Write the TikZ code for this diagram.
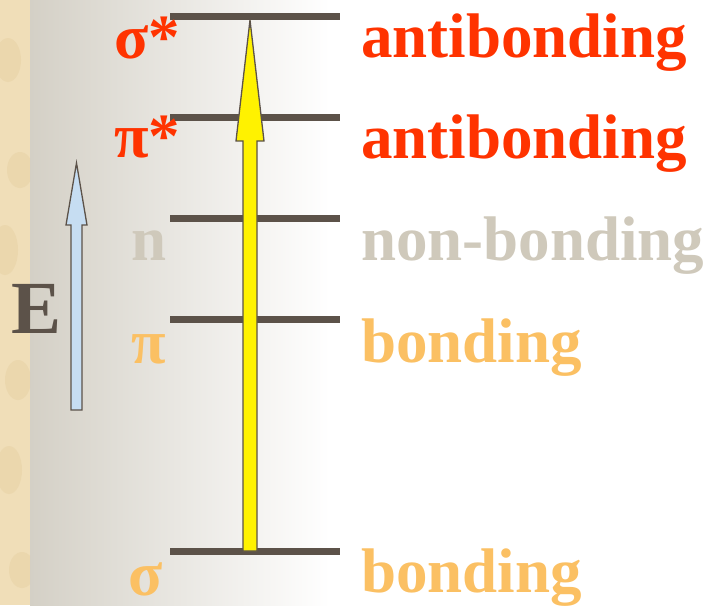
\documentclass[tikz,border=0pt]{standalone}
\usepackage{fontspec}
\setmainfont{Liberation Serif}
\definecolor{levelgray}{HTML}{5C5249}
\definecolor{antired}{HTML}{FF3300}
\definecolor{nonbgray}{HTML}{CFC9BB}
\definecolor{bondorange}{HTML}{FBC063}
\definecolor{parchment}{HTML}{F0DEB8}
\definecolor{parchdark}{HTML}{E0C896}
\definecolor{panelgray}{HTML}{D4D0C6}
\definecolor{arrowblue}{HTML}{C6DDF2}
\begin{document}
\begin{tikzpicture}[x=1pt,y=-1pt,line join=miter,
  level/.style={line width=7pt,draw=levelgray},
  lbl/.style={anchor=base west,inner sep=0pt,font=\fontsize{63}{63}\selectfont\bfseries},
  fatarrow/.style={draw=levelgray,line width=1.3pt}]
  \useasboundingbox (0,0) rectangle (714,605);
  % background
  \fill[white] (0,0) rectangle (714,605);
  \shade[left color=panelgray,right color=white] (30,0) rectangle (330,605);
  \fill[parchment] (0,0) rectangle (30,605);
  \begin{scope}
    \clip (0,0) rectangle (30,605);
    \foreach \yy/\xx/\rr in {60/8/22,170/20/18,250/5/25,380/18/20,470/9/24,570/22/18}
      \fill[parchdark,opacity=0.3] (\xx,\yy) ellipse (13 and \rr);
  \end{scope}
  % energy levels
  \coordinate (sigstarL) at (170,16.5);
  \coordinate (pistarL) at (170,117.5);
  \coordinate (nonbL) at (170,218);
  \coordinate (piL) at (170,319.5);
  \coordinate (sigL) at (170,551.5);
  \foreach \lv in {sigstarL,pistarL,nonbL,piL,sigL}
    \draw[level] (\lv) -- ++(170,0);
  % transition
  \draw[fatarrow,fill=yellow] (243,551) -- (243,141) -- (236,141) -- (250,20)
    -- (264,141) -- (257,141) -- (257,551) -- cycle;
  % energy axis
  \draw[fatarrow,fill=arrowblue] (71,410) -- (71,225) -- (66,225) -- (76.5,163)
    -- (87,225) -- (82,225) -- (82,410) -- cycle;
  \node[lbl,text=levelgray,font=\fontsize{75}{75}\selectfont\bfseries] (elabel) at (11,333) {E};
  % orbital names
  \node[lbl,text=antired] (sigstar) at (114,58) {σ*};
  \node[lbl,text=antired] (pistar) at (114,157) {π*};
  \node[lbl,text=nonbgray] (nonb) at (131,260) {n};
  \node[lbl,text=bondorange] (pi) at (131,363) {π};
  \node[lbl,text=bondorange,text depth=0pt] (sig) at (128,595) {σ};
  % kinds
  \node[lbl,text=antired] (sigstarkind) at (361,57) {antibonding};
  \node[lbl,text=antired] (pistarkind) at (361,158) {antibonding};
  \node[lbl,text=nonbgray] (nonbkind) at (361,260) {non-bonding};
  \node[lbl,text=bondorange] (pikind) at (361,362) {bonding};
  \node[lbl,text=bondorange] (sigkind) at (361,592) {bonding};
\end{tikzpicture}
\end{document}
